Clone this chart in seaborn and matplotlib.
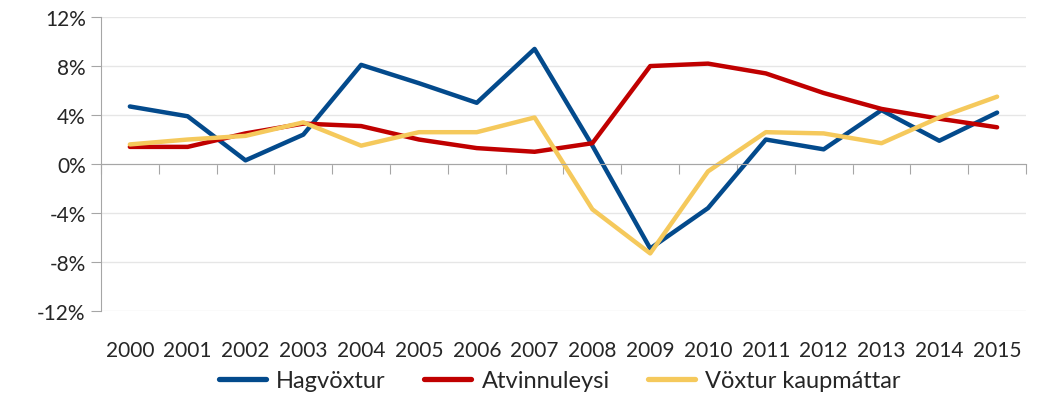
import numpy as np
import pandas as pd
import matplotlib
matplotlib.use('Agg')
import matplotlib.pyplot as plt
import seaborn as sns

years = list(range(2000, 2016))
hagvoxtur = [4.7, 3.9, 0.3, 2.4, 8.1, 6.6, 5.0, 9.4, 1.5, -6.9, -3.6, 2.0, 1.2, 4.4, 1.9, 4.2]
atvinnuleysi = [1.4, 1.4, 2.5, 3.3, 3.1, 2.0, 1.3, 1.0, 1.7, 8.0, 8.2, 7.4, 5.8, 4.5, 3.7, 3.0]
kaupmattur = [1.6, 2.0, 2.3, 3.4, 1.5, 2.6, 2.6, 3.8, -3.7, -7.3, -0.6, 2.6, 2.5, 1.7, 3.8, 5.5]

series_names = ['Hagvöxtur', 'Atvinnuleysi', 'Vöxtur kaupmáttar']
colors = ['#034A8C', '#C00000', '#F5C95C']

df = pd.DataFrame({
    'year': years * 3,
    'value': hagvoxtur + atvinnuleysi + kaupmattur,
    'series': sum([[n] * len(years) for n in series_names], []),
})

sns.set_style('white')
plt.rcParams['font.family'] = ['Lato', 'DejaVu Sans']

fig = plt.figure(figsize=(10.56, 4.02), dpi=100)
ax = fig.add_axes([0.0956, 0.224, 0.876, 0.731])

sns.lineplot(data=df, x='year', y='value', hue='series', palette=colors,
             linewidth=3.2, ax=ax, legend=True)

ax.set_xlim(years[0] - 0.5, years[-1] + 0.5)
ax.set_ylim(-12, 12)
ax.set_yticks(np.arange(-12, 13, 4))
ax.set_yticklabels([f'{int(v)}%' for v in np.arange(-12, 13, 4)], fontsize=15)
ax.yaxis.grid(True, color='#E6E6E6', linewidth=1)
ax.set_axisbelow(True)
ax.set_xlabel('')
ax.set_ylabel('')

for s in ['top', 'right']:
    ax.spines[s].set_visible(False)
ax.spines['left'].set_color('#A6A6A6')
ax.spines['bottom'].set_position(('data', 0))
ax.spines['bottom'].set_color('#A6A6A6')
ax.tick_params(axis='y', direction='out', length=7, color='#A6A6A6', left=True, pad=4)

# category boundary ticks on the zero line
ax.set_xticks(np.arange(years[0] - 0.5, years[-1] + 1.0, 1.0))
ax.tick_params(axis='x', direction='out', length=7, color='#A6A6A6', bottom=True, labelbottom=False)

# year labels at the bottom of the plot area
sec = ax.secondary_xaxis(0)
sec.set_xticks(years)
sec.set_xticklabels([str(y) for y in years], fontsize=15)
sec.tick_params(length=0, pad=21)
sec.spines['bottom'].set_visible(False)

handles, labels = ax.get_legend_handles_labels()
for h in handles:
    h.set_linewidth(3.8)
    h.set_solid_capstyle('round')
ax.legend(handles, labels, loc='lower center', bbox_to_anchor=(0.53, -0.005),
          bbox_transform=fig.transFigure, ncol=3, frameon=False, fontsize=17,
          handlelength=2.0, columnspacing=1.6, handletextpad=0.45, borderaxespad=0.1)

fig.savefig('out.png', dpi=100)
